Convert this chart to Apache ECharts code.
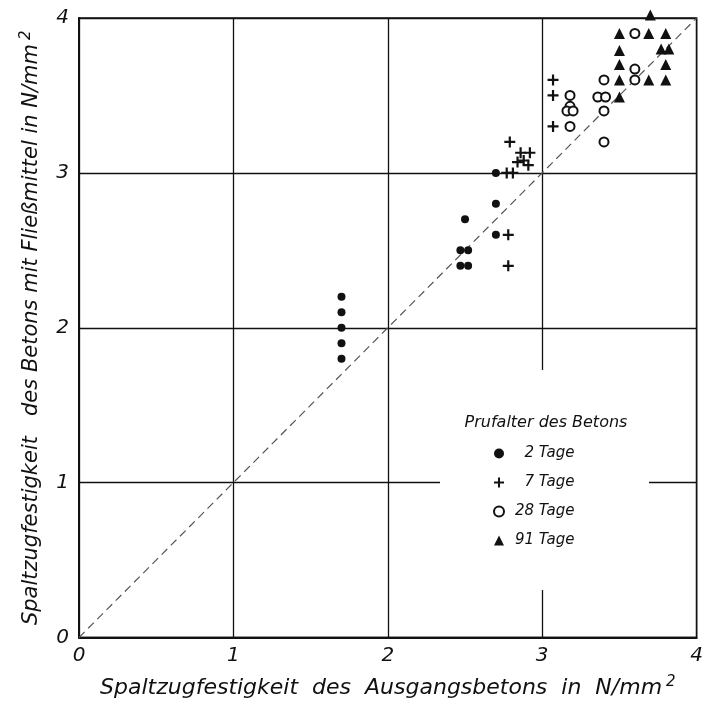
<!DOCTYPE html>
<html>
<head>
<meta charset="utf-8">
<style>
  html, body { margin: 0; padding: 0; background: #fff; }
  #chart { width: 706px; height: 707px; }
</style>
<script src="https://cdn.jsdelivr.net/npm/echarts@6/dist/echarts.min.js"></script>
</head>
<body>
<div id="chart"></div>
<script>
// Splitting tensile strength: reference concrete (x) vs. concrete with superplasticizer (y), N/mm²
const xTicks = [0, 1, 2, 3, 4];
const yTicks = [0, 1, 2, 3, 4];

const age2 = [[1.7,2.2],[1.7,2.1],[1.7,2.0],[1.7,1.9],[1.7,1.8],[2.47,2.4],[2.52,2.4],[2.47,2.5],[2.52,2.5],[2.5,2.7],[2.7,2.6],[2.7,2.8],[2.7,3.0]];
const age7 = [[2.78,2.4],[2.78,2.6],[2.77,3.0],[2.81,3.0],[2.79,3.2],[2.86,3.13],[2.92,3.13],[2.84,3.07],[2.88,3.08],[2.91,3.05],[3.07,3.3],[3.07,3.5],[3.07,3.6]];
const age28 = [[3.18,3.5],[3.18,3.43],[3.16,3.4],[3.2,3.4],[3.18,3.3],[3.4,3.2],[3.4,3.4],[3.36,3.49],[3.41,3.49],[3.4,3.6],[3.6,3.6],[3.6,3.67],[3.6,3.9]];
const age91 = [[3.5,3.49],[3.5,3.6],[3.5,3.7],[3.5,3.79],[3.5,3.9],[3.7,4.02],[3.69,3.9],[3.8,3.9],[3.77,3.8],[3.82,3.8],[3.8,3.7],[3.69,3.6],[3.8,3.6]];
const equality = [[0,0],[4,4]];

const FONT = 'DejaVu Sans';
const plusPath = 'path://M4,0 H6 V4 H10 V6 H6 V10 H4 V6 H0 V4 H4 Z';

const chart = echarts.init(document.getElementById('chart'), null, { renderer: 'canvas' });

const textStyle = { fontFamily: FONT, fontStyle: 'italic', color: '#111' };
// raised exponent: padding below the small digit lifts it inside the line box
const supStyle = { fontFamily: FONT, fontStyle: 'italic', color: '#111', fontSize: 15, lineHeight: 15, padding: [0, 0, 12, 4] };

chart.setOption({
  backgroundColor: '#fff',
  animation: false,
  grid: {
    left: 79, right: 9, top: 18, bottom: 69,
    show: true, borderColor: '#111', borderWidth: 1.5, backgroundColor: 'transparent'
  },
  xAxis: {
    type: 'value', min: xTicks[0], max: xTicks[xTicks.length - 1], interval: 1,
    axisLine: { show: true, onZero: false, lineStyle: { color: '#111', width: 2 } },
    axisTick: { show: false },
    splitLine: { show: true, lineStyle: { color: '#111', width: 1.3 } },
    axisLabel: { ...textStyle, fontSize: 20, margin: 8 },
    name: 'Spaltzugfestigkeit  des  Ausgangsbetons  in  N/mm{sup|2}',
    nameLocation: 'middle', nameGap: 40,
    nameTextStyle: { ...textStyle, fontSize: 22, rich: { sup: supStyle } }
  },
  yAxis: {
    type: 'value', min: yTicks[0], max: yTicks[yTicks.length - 1], interval: 1,
    axisLine: { show: true, onZero: false, lineStyle: { color: '#111', width: 2 } },
    axisTick: { show: false },
    splitLine: { show: true, lineStyle: { color: '#111', width: 1.3 } },
    axisLabel: { ...textStyle, fontSize: 20, margin: 10 },
    name: 'Spaltzugfestigkeit   des Betons mit Fließmittel in N/mm{sup|2}',
    nameLocation: 'middle', nameGap: 34,
    nameTextStyle: { ...textStyle, fontSize: 21, rich: { sup: supStyle } }
  },
  legend: {
    orient: 'vertical',
    left: 493, top: 446,
    padding: 0,
    itemWidth: 10, itemHeight: 10, itemGap: 14,
    textStyle: { ...textStyle, fontSize: 15, padding: [0, 0, 0, 6] },
    formatter: name => (name.length < 7 ? '\u2007' + name : name),
    data: ['2 Tage', '7 Tage', '28 Tage', '91 Tage'],
    selectedMode: false
  },
  graphic: [
    {
      // blank panel behind the key, interrupting the grid lines
      type: 'rect', z: 1, silent: true,
      shape: { x: 440, y: 370, width: 209, height: 220 },
      style: { fill: '#fff' }
    },
    {
      type: 'text', z: 100, x: 546, y: 423,
      style: {
        text: 'Prufalter des Betons', font: 'italic 16px "DejaVu Sans"', fill: '#111',
        align: 'center', verticalAlign: 'middle'
      }
    }
  ],
  series: [
    {
      type: 'line', data: equality, showSymbol: false, silent: true,
      lineStyle: { color: '#555', width: 1.2, type: [8, 5] }, z: 1
    },
    {
      name: '2 Tage', type: 'scatter', data: age2, symbol: 'circle', symbolSize: 8,
      itemStyle: { color: '#111', opacity: 1 }, clip: false
    },
    {
      name: '7 Tage', type: 'scatter', data: age7, symbol: plusPath, symbolSize: 11,
      itemStyle: { color: '#111', opacity: 1 }, clip: false
    },
    {
      name: '28 Tage', type: 'scatter', data: age28, symbol: 'emptyCircle', symbolSize: 9,
      itemStyle: { color: '#111', borderColor: '#111', borderWidth: 1.5, opacity: 1 }, clip: false
    },
    {
      name: '91 Tage', type: 'scatter', data: age91, symbol: 'triangle', symbolSize: 11,
      itemStyle: { color: '#111', opacity: 1 }, clip: false
    }
  ]
});
</script>
</body>
</html>
